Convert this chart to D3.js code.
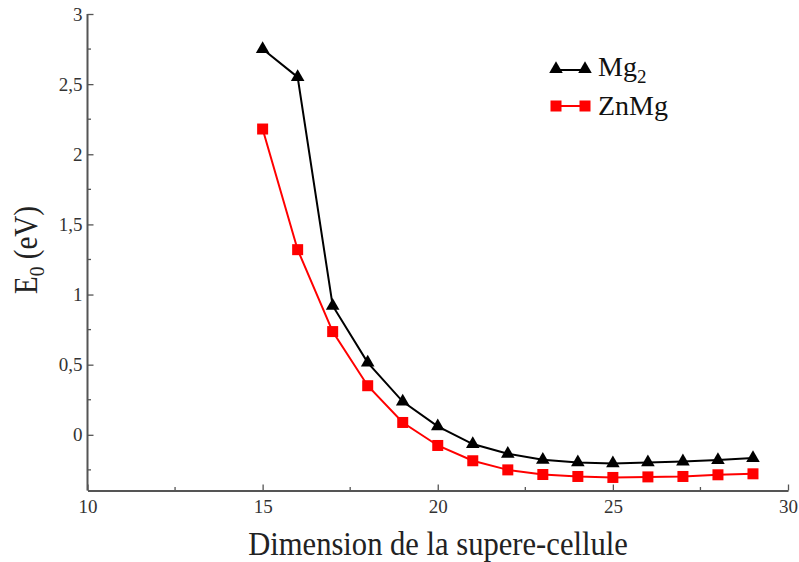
<!DOCTYPE html>
<html><head><meta charset="utf-8">
<script src="https://cdn.jsdelivr.net/npm/d3@7"></script>
<style>body{margin:0;background:#fff}svg{display:block}svg text{font-family:"Liberation Serif" !important}</style>
</head><body>
<svg id="c" width="799" height="562"></svg>
<script>
const xs = [15,16,17,18,19,20,21,22,23,24,25,26,27,28,29];
const mg2 = [2.75,2.55,0.92,0.515,0.237,0.06,-0.066,-0.135,-0.178,-0.197,-0.204,-0.197,-0.19,-0.18,-0.166];
const znmg = [2.18,1.32,0.736,0.35,0.088,-0.076,-0.185,-0.25,-0.283,-0.297,-0.304,-0.30,-0.297,-0.285,-0.278];
const xTicks = [10,15,20,25,30];
const yTicks = [0,0.5,1,1.5,2,2.5,3];
const seriesNames = ["Mg", "ZnMg"];

const FONT = "Liberation Serif";
const svg = d3.select("#c");
const x = d3.scaleLinear().domain([10,30]).range([87.5,788]);
const y = d3.scaleLinear().domain([-0.397,3]).range([490.5,14]);
const fmt = d => String(d).replace(".", ",");
const axisColor = "#555";

// minor ticks
const g = svg.append("g");
const xMinor = d3.range(12.5,30,5);
const yMinor = d3.range(-0.25,3,0.5);
g.selectAll(".xm").data(xMinor).join("line")
  .attr("x1",d=>x(d)).attr("x2",d=>x(d)).attr("y1",490.5).attr("y2",487)
  .attr("stroke",axisColor).attr("stroke-width",1.3);
g.selectAll(".ym").data(yMinor).join("line")
  .attr("y1",d=>y(d)).attr("y2",d=>y(d)).attr("x1",87.5).attr("x2",91)
  .attr("stroke",axisColor).attr("stroke-width",1.3);

const xAxis = svg.append("g").attr("transform","translate(0,490.5)")
  .call(d3.axisBottom(x).tickValues(xTicks).tickSize(-6).tickPadding(9).tickSizeOuter(0));
const yAxis = svg.append("g").attr("transform","translate(87.5,0)")
  .call(d3.axisLeft(y).tickValues(yTicks).tickSize(-6).tickPadding(5).tickFormat(fmt).tickSizeOuter(0));
[xAxis,yAxis].forEach(a=>{
  a.attr("font-family", null).attr("font-size", 19);
  a.select(".domain").attr("stroke",axisColor).attr("stroke-width",2);
  a.selectAll(".tick line").attr("stroke",axisColor).attr("stroke-width",1.3);
  a.selectAll("text").attr("fill","#333").attr("font-family", FONT).attr("font-size", 19);
});
yAxis.select(".domain").attr("d",`M0,${y(3)}V490.5`);

const line = d3.line().x((d,i)=>x(xs[i])).y(d=>y(d));
svg.append("path").datum(znmg).attr("d",line).attr("fill","none").attr("stroke","#ff0000").attr("stroke-width",2);
svg.append("path").datum(mg2).attr("d",line).attr("fill","none").attr("stroke","#000").attr("stroke-width",2);

const tri = d3.symbol().type(d3.symbolTriangle).size(80);
svg.selectAll(".sq").data(znmg).join("rect")
  .attr("x",(d,i)=>x(xs[i])-5.5).attr("y",d=>y(d)-5.5).attr("width",11).attr("height",11).attr("fill","#ff0000");
svg.selectAll(".tr").data(mg2).join("path")
  .attr("d",tri).attr("transform",(d,i)=>`translate(${x(xs[i])},${y(d)})`).attr("fill","#000");

// legend
const lg = svg.append("g");
lg.append("line").attr("x1",556).attr("x2",585).attr("y1",70).attr("y2",70).attr("stroke","#000").attr("stroke-width",2);
[556,585].forEach(px=>lg.append("path").attr("d",tri).attr("transform",`translate(${px},69)`).attr("fill","#000"));
lg.append("line").attr("x1",556).attr("x2",585).attr("y1",106).attr("y2",106).attr("stroke","#ff0000").attr("stroke-width",2);
[556,585].forEach(px=>lg.append("rect").attr("x",px-5.5).attr("y",100.5).attr("width",11).attr("height",11).attr("fill","#ff0000"));
const t1 = lg.append("text").attr("x",598).attr("y",76).attr("font-family",FONT).attr("font-size",28).attr("fill","#111");
t1.append("tspan").text(seriesNames[0]);
t1.append("tspan").text("2").attr("dy",7).attr("font-size",19);
lg.append("text").attr("x",598).attr("y",115).attr("font-family",FONT).attr("font-size",28).attr("fill","#111").text(seriesNames[1]);

// axis titles
svg.append("text").attr("transform","translate(438,555) scale(0.9,1)").attr("text-anchor","middle")
  .attr("font-family",FONT).attr("font-size",34).attr("fill","#222").text("Dimension de la supere-cellule");
const yl = svg.append("text").attr("transform","translate(37,250) rotate(-90) scale(0.88,1)").attr("text-anchor","middle")
  .attr("font-family",FONT).attr("font-size",33).attr("fill","#222");
yl.append("tspan").text("E");
yl.append("tspan").text("0").attr("dy",7).attr("font-size",22);
yl.append("tspan").text(" (eV)").attr("dy",-7);
</script>
</body></html>
